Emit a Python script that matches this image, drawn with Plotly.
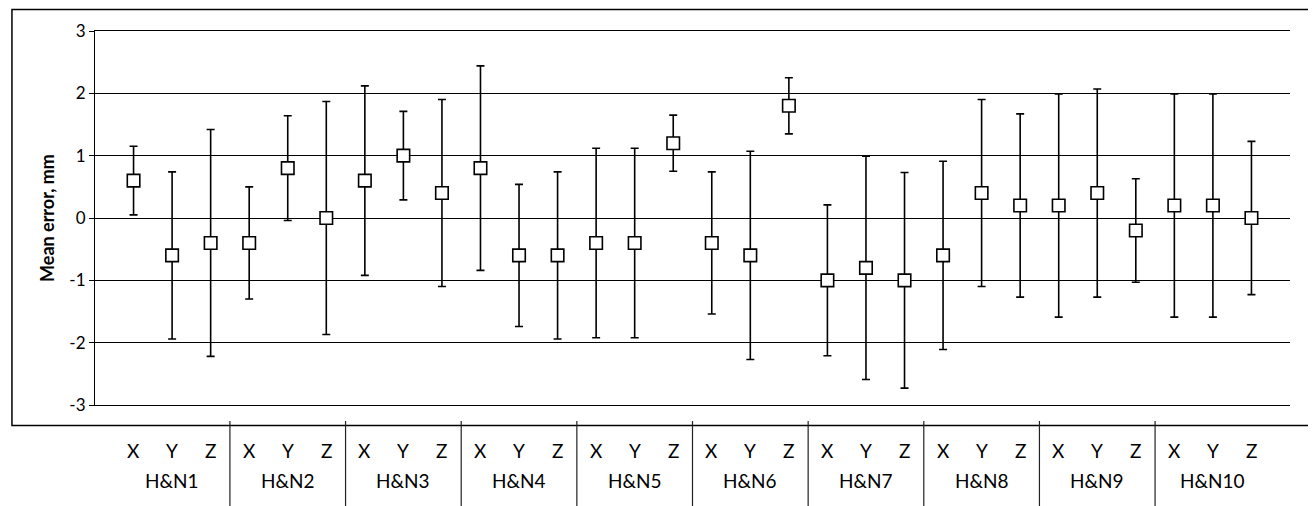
import plotly.graph_objects as go

groups = ["H&N1", "H&N2", "H&N3", "H&N4", "H&N5", "H&N6", "H&N7", "H&N8", "H&N9", "H&N10"]
axes_labels = ["X", "Y", "Z"]
mean_error = [0.6, -0.6, -0.4, -0.4, 0.8, 0.0, 0.6, 1.0, 0.4, 0.8,
              -0.6, -0.6, -0.4, -0.4, 1.2, -0.4, -0.6, 1.8, -1.0, -0.8,
              -1.0, -0.6, 0.4, 0.2, 0.2, 0.4, -0.2, 0.2, 0.2, 0.0]
sd_error = [0.55, 1.34, 1.82, 0.90, 0.84, 1.87, 1.52, 0.71, 1.50, 1.64,
            1.14, 1.34, 1.52, 1.52, 0.45, 1.14, 1.67, 0.45, 1.21, 1.79,
            1.73, 1.51, 1.50, 1.47, 1.79, 1.67, 0.83, 1.79, 1.79, 1.23]
y_ticks = [3, 2, 1, 0, -1, -2, -3]
y_tick_text = ["3", "2", "1", "0", "-1", "-2", "-3"]

FONT = "Lato"
n = len(mean_error)
xs = list(range(n))

fig = go.Figure()
fig.add_trace(go.Scatter(
    x=xs, y=mean_error, mode="markers",
    marker=dict(symbol="square", size=12.5, color="white",
                line=dict(color="black", width=1.6)),
    error_y=dict(type="data", array=sd_error, visible=True,
                 color="black", thickness=1.6, width=4),
    showlegend=False, hoverinfo="skip",
))

annotations = []
for i in range(n):
    annotations.append(dict(x=i, y=-0.1217, xref="x", yref="paper",
                            text=axes_labels[i % 3], showarrow=False,
                            xanchor="center", yanchor="middle",
                            font=dict(family=FONT, size=19, color="black")))
for g, name in enumerate(groups):
    annotations.append(dict(x=g * 3 + 1, y=-0.2024, xref="x", yref="paper",
                            text=name, showarrow=False,
                            xanchor="center", yanchor="middle",
                            font=dict(family=FONT, size=19, color="black")))
annotations.append(dict(x=-0.0402, y=0.5, xref="paper", yref="paper",
                        text="<b>Mean error, mm</b>", textangle=-90, showarrow=False,
                        xanchor="center", yanchor="middle",
                        font=dict(family=FONT, size=18, color="black")))

shapes = [dict(type="rect", xref="paper", yref="paper",
               x0=-0.0695, x1=1.0163, y0=-0.0548, y1=1.0575,
               line=dict(color="black", width=1.5), layer="below")]
for g in range(1, len(groups)):
    shapes.append(dict(type="line", xref="x", yref="paper",
                       x0=g * 3 - 0.5, x1=g * 3 - 0.5, y0=-0.0428, y1=-0.32,
                       line=dict(color="#222", width=1.2)))

fig.update_layout(
    width=1308, height=498,
    margin=dict(l=87, r=26, t=23, b=101),
    paper_bgcolor="white", plot_bgcolor="white",
    font=dict(family=FONT, color="black"),
    annotations=annotations, shapes=shapes,
    xaxis=dict(range=[-1, 30], showticklabels=False, showgrid=False,
               zeroline=False, showline=True, mirror=True,
               linecolor="black", linewidth=1, ticks=""),
    yaxis=dict(range=[-3, 3], tickvals=y_ticks, ticktext=y_tick_text,
               showgrid=True, gridcolor="black", gridwidth=1, zeroline=False,
               showline=True, linecolor="black", linewidth=1.2,
               ticks="outside", ticklen=5, tickcolor="black",
               tickfont=dict(family=FONT, size=17, color="black")),
)

fig.write_html("out.html")
